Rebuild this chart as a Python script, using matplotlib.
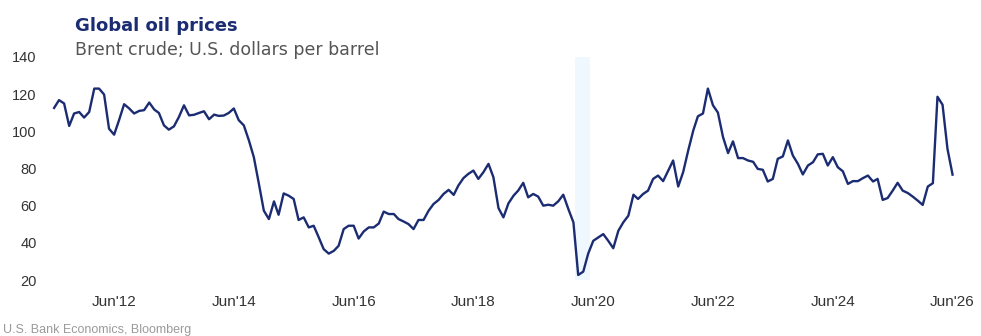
import matplotlib
matplotlib.use("Agg")
import matplotlib.pyplot as plt
from matplotlib import font_manager
import numpy as np
import pandas as pd

# Brent crude, month-end, USD per barrel (Jun 2011 .. Jun 2026)
brent = [
    112.6, 116.8, 115.0, 102.9, 109.6, 110.4, 107.4, 110.4, 123.0, 123.0,
    119.8, 101.4, 98.2, 106.0, 114.6, 112.3, 109.6, 111.0, 111.4, 115.5,
    111.7, 109.9, 103.2, 100.9, 102.7, 107.7, 114.0, 108.6, 108.9, 109.9,
    110.8, 106.5, 109.0, 108.3, 108.5, 109.9, 112.3, 106.0, 103.2, 95.1,
    86.1, 71.7, 57.3, 52.8, 62.3, 55.1, 66.6, 65.4, 63.6, 52.3,
    53.7, 48.3, 49.2, 42.9, 36.6, 34.2, 35.7, 38.4, 47.4, 49.2,
    49.2, 42.3, 46.1, 48.3, 48.3, 50.4, 56.8, 55.5, 55.5, 52.8,
    51.5, 50.1, 47.4, 52.3, 52.3, 57.3, 60.9, 63.1, 66.3, 68.5,
    65.8, 70.8, 74.8, 77.1, 78.9, 74.4, 78.0, 82.5, 75.3, 58.7,
    53.7, 61.3, 65.4, 68.1, 72.3, 64.5, 66.3, 64.9, 60.0, 60.5,
    60.0, 62.4, 65.9, 58.2, 51.0, 22.7, 24.5, 34.2, 41.1, 42.9,
    44.7, 41.0, 37.1, 46.5, 51.0, 54.6, 65.9, 63.6, 66.3, 68.1,
    74.4, 76.2, 73.2, 78.9, 84.3, 70.3, 78.0, 89.7, 100.5, 108.1,
    109.6, 123.0, 114.0, 110.1, 97.0, 88.3, 94.6, 85.6, 85.6, 84.3,
    83.6, 79.8, 79.3, 73.0, 74.4, 85.2, 86.5, 95.1, 87.0, 82.5,
    76.8, 81.6, 83.4, 87.6, 87.9, 81.6, 86.1, 80.7, 78.5, 71.7,
    73.2, 73.2, 74.8, 76.2, 73.0, 74.4, 63.1, 64.1, 68.1, 72.3,
    68.1, 66.8, 64.9, 62.7, 60.4, 70.3, 72.1, 118.6, 114.3, 90.6,
    76.7,
]
dates = pd.date_range("2011-06-01", periods=len(brent), freq="MS")

tick_years = list(range(2012, 2027, 2))
tick_labels = ["Jun'%02d" % (y % 100) for y in tick_years]
y_ticks = [20, 40, 60, 80, 100, 120, 140]

recession = (pd.Timestamp("2020-02-10"), pd.Timestamp("2020-05-15"))

navy = "#1b2c72"

names = {f.name for f in font_manager.fontManager.ttflist}
narrow = "Liberation Sans Narrow" if "Liberation Sans Narrow" in names else None

fig = plt.figure(figsize=(9.81, 3.36), dpi=100)
ax = fig.add_axes([50 / 981, 1 - 280 / 336, 916 / 981, 223 / 336])

ax.axvspan(recession[0], recession[1], color="#eff8fe", lw=0, zorder=0)
ax.plot(dates, brent, color=navy, lw=1.7, zorder=2, solid_joinstyle="round")

ax.set_ylim(20, 140)
ax.set_xlim(pd.Timestamp("2011-05-07"), pd.Timestamp("2026-08-22"))
ax.set_yticks(y_ticks)
ax.set_yticklabels([str(v) for v in y_ticks], fontsize=10.5,
                   family="Liberation Sans", color="#333333")
ax.set_xticks([pd.Timestamp("%d-06-01" % y) for y in tick_years])
ax.set_xticklabels(tick_labels, fontsize=11, family="Liberation Sans",
                   color="#333333")
ax.tick_params(axis="both", length=0)
ax.tick_params(axis="y", pad=9.5)
ax.tick_params(axis="x", pad=11)
for s in ax.spines.values():
    s.set_visible(False)

fig.text(75 / 981, 1 - 31 / 336, "Global oil prices", fontsize=13,
         fontweight="bold", color=navy, family="DejaVu Sans", va="baseline")
fig.text(75 / 981, 1 - 55 / 336, "Brent crude; U.S. dollars per barrel",
         fontsize=12.5, color="#555555", family="DejaVu Sans", va="baseline")

if narrow:
    fig.text(3 / 981, 1 - 333 / 336, "U.S. Bank Economics, Bloomberg",
             fontsize=10.5, color="#9a9a9a", family=narrow, va="baseline")
else:
    fig.text(3 / 981, 1 - 333 / 336, "U.S. Bank Economics, Bloomberg",
             fontsize=9, color="#9a9a9a", family="Liberation Sans",
             va="baseline")

fig.savefig("out.png", dpi=100)
